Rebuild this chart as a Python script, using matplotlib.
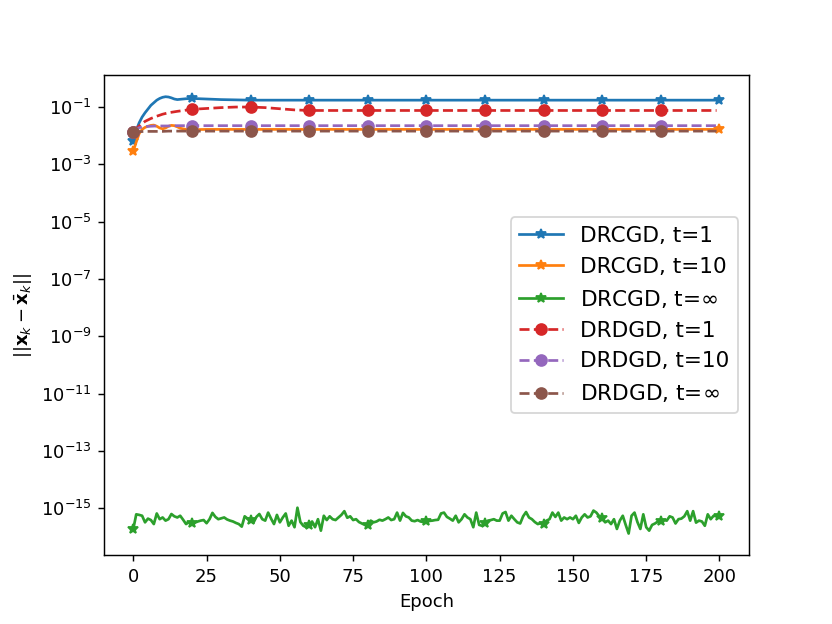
import matplotlib
matplotlib.use("Agg")
import matplotlib.pyplot as plt
import numpy as np

# DRCGD runs have 201 epochs (0..200), DRDGD runs have 200 (0..199)
# values are log10 of ||x_k - xbar_k||

cgd1_epoch = [0, 1, 2, 3, 4, 5, 6, 7, 8, 9, 10, 11, 12, 13, 14, 15, 16, 18,
              20, 25, 30, 35, 40, 50, 60, 70, 80, 90, 100, 110, 120, 130,
              140, 150, 160, 170, 180, 190, 200]
cgd1_log = [-2.19, -1.81, -1.55, -1.35, -1.20, -1.07, -0.94, -0.85, -0.76,
            -0.70, -0.66, -0.64, -0.65, -0.68, -0.72, -0.74, -0.73, -0.71,
            -0.70, -0.72, -0.74, -0.75, -0.76, -0.76, -0.76, -0.76, -0.76,
            -0.76, -0.76, -0.76, -0.76, -0.76, -0.76, -0.76, -0.76, -0.76,
            -0.76, -0.76, -0.76]

cgd10_epoch = cgd1_epoch
cgd10_log = [-2.54, -2.22, -1.93, -1.78, -1.71, -1.67, -1.64, -1.63, -1.67,
             -1.73, -1.76, -1.73, -1.67, -1.64, -1.65, -1.69, -1.74, -1.78,
             -1.79, -1.78, -1.78, -1.78, -1.78, -1.78, -1.78, -1.78, -1.78,
             -1.78, -1.78, -1.78, -1.78, -1.78, -1.78, -1.78, -1.78, -1.78,
             -1.78, -1.78, -1.78]

# t = inf, one value per epoch
cgdinf_log = [
    -15.72, -15.21, -15.23, -15.26, -15.49, -15.36, -15.41, -15.55, -15.18, -15.38,
    -15.32, -15.43, -15.38, -15.20, -15.28, -15.32, -15.26, -15.40, -15.55, -15.48,
    -15.52, -15.50, -15.46, -15.43, -15.41, -15.52, -15.38, -15.16, -15.30, -15.38,
    -15.35, -15.32, -15.39, -15.43, -15.46, -15.51, -15.55, -15.64, -15.28, -15.36,
    -15.40, -15.50, -15.30, -15.20, -15.38, -15.43, -15.15, -15.36, -15.55, -15.23,
    -15.49, -15.32, -15.18, -15.61, -15.43, -15.66, -14.98, -15.48, -15.61, -15.66,
    -15.58, -15.46, -15.66, -15.38, -15.78, -15.26, -15.41, -15.28, -15.38, -15.41,
    -15.32, -15.23, -15.10, -15.33, -15.28, -15.41, -15.38, -15.48, -15.53, -15.58,
    -15.58, -15.43, -15.49, -15.46, -15.40, -15.43, -15.38, -15.32, -15.41, -15.38,
    -15.15, -15.43, -15.16, -15.28, -15.32, -15.43, -15.45, -15.41, -15.46, -15.48,
    -15.46, -15.44, -15.43, -15.41, -15.40, -15.18, -15.15, -15.30, -15.36, -15.43,
    -15.26, -15.49, -15.38, -15.21, -15.32, -15.38, -15.66, -15.15, -15.58, -15.61,
    -15.53, -15.43, -15.41, -15.38, -15.43, -15.43, -15.18, -15.13, -15.43, -15.26,
    -15.38, -15.49, -15.53, -15.28, -15.13, -15.32, -15.38, -15.48, -15.55, -15.52,
    -15.55, -15.43, -15.38, -15.15, -15.30, -15.15, -15.43, -15.32, -15.38, -15.32,
    -15.38, -15.26, -15.51, -15.32, -15.21, -15.32, -15.28, -15.08, -15.15, -15.28,
    -15.34, -15.49, -15.43, -15.55, -15.38, -15.72, -15.43, -15.26, -15.58, -15.88,
    -15.26, -15.15, -15.48, -15.72, -15.21, -15.66, -15.78, -15.58, -15.53, -15.46,
    -15.44, -15.41, -15.43, -15.28, -15.32, -15.53, -15.38, -15.36, -15.28, -15.10,
    -15.43, -15.10, -15.50, -15.43, -15.46, -15.61, -15.21, -15.38, -15.26, -15.28,
    -15.26,
]

dgd_epoch = [0, 1, 2, 4, 6, 8, 10, 12, 15, 20, 25, 30, 35, 40, 45, 50, 55, 60,
             70, 80, 90, 100, 110, 120, 130, 140, 150, 160, 170, 180, 190, 199]
dgd1_log = [-1.87, -1.76, -1.66, -1.50, -1.40, -1.32, -1.25, -1.20, -1.15,
            -1.08, -1.05, -1.02, -1.00, -1.00, -1.02, -1.06, -1.10, -1.12,
            -1.12, -1.12, -1.12, -1.12, -1.12, -1.12, -1.12, -1.12, -1.12,
            -1.12, -1.12, -1.12, -1.12, -1.12]
dgd10_log = [-1.87, -1.78, -1.72, -1.68, -1.67, -1.66, -1.66, -1.66, -1.65,
             -1.65, -1.65, -1.65, -1.65, -1.65, -1.65, -1.65, -1.65, -1.65,
             -1.65, -1.65, -1.65, -1.65, -1.65, -1.65, -1.65, -1.65, -1.65,
             -1.65, -1.65, -1.65, -1.65, -1.65]
dgdinf_log = [-1.87, -1.87, -1.86, -1.85, -1.85, -1.85, -1.85, -1.84, -1.84,
              -1.84, -1.84, -1.84, -1.84, -1.84, -1.84, -1.84, -1.84, -1.84,
              -1.84, -1.84, -1.84, -1.84, -1.84, -1.84, -1.84, -1.84, -1.84,
              -1.84, -1.84, -1.84, -1.84, -1.84]


def marks(epochs):
    # markers every 20 epochs
    return [i for i, e in enumerate(epochs) if e % 20 == 0]


plt.figure(figsize=(6.4, 4.8), dpi=130)

plt.semilogy(cgd1_epoch, 10 ** np.array(cgd1_log), color='tab:blue', marker='*',
             markevery=marks(cgd1_epoch), label='DRCGD, t=1')
plt.semilogy(cgd10_epoch, 10 ** np.array(cgd10_log), color='tab:orange', marker='*',
             markevery=marks(cgd10_epoch), label='DRCGD, t=10')
inf_epoch = list(range(len(cgdinf_log)))
plt.semilogy(inf_epoch, 10 ** np.array(cgdinf_log), color='tab:green', marker='*',
             markevery=marks(inf_epoch), label='DRCGD, t=$\\infty$')
plt.semilogy(dgd_epoch, 10 ** np.array(dgd1_log), color='tab:red', marker='o',
             linestyle='--', markevery=marks(dgd_epoch), label='DRDGD, t=1')
plt.semilogy(dgd_epoch, 10 ** np.array(dgd10_log), color='tab:purple', marker='o',
             linestyle='--', markevery=marks(dgd_epoch), label='DRDGD, t=10')
plt.semilogy(dgd_epoch, 10 ** np.array(dgdinf_log), color='tab:brown', marker='o',
             linestyle='--', markevery=marks(dgd_epoch), label='DRDGD, t=$\\infty$')

plt.xlabel('Epoch')
plt.ylabel(r'$||\mathbf{x}_k - \bar{\mathbf{x}}_k||$')
plt.legend(fontsize=12, loc='center right')

plt.savefig('out.png')
